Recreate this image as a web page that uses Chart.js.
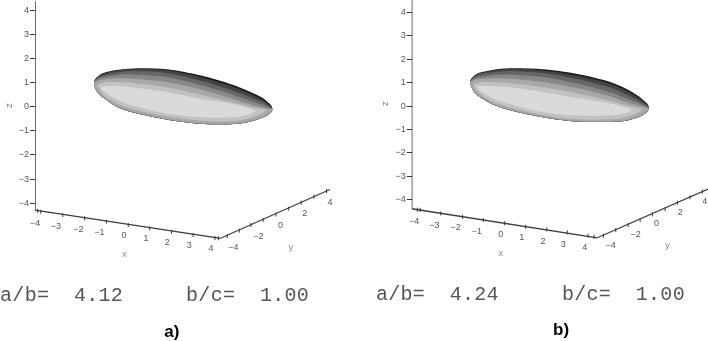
<!DOCTYPE html>
<html><head><meta charset="utf-8">
<style>html,body{margin:0;padding:0;background:#fff;overflow:hidden}
canvas{position:absolute;top:0;filter:blur(0.4px)}</style>
<script src="https://cdn.jsdelivr.net/npm/chart.js@4"></script></head>
<body><canvas id="pa" width="354" height="341" style="left:0"></canvas>
<canvas id="pb" width="354" height="341" style="left:354px"></canvas>
<script>
const zTicks=[-4,-3,-2,-1,0,1,2,3,4];
const xTickLabels=['-4','-3','-2','-1','0','1','2','3','4'];
const yTickLabels=['-4','-2','0','2','4'];

// panel a, values (h = horizontal projected units, z = z axis units)
const aH=[2.45,2.49,2.63,2.84,3.39,4.08,5.46,6.85,8.23,8.92,9.47,9.68,9.82,9.86];
const aTop0=[.97,1.13,1.27,1.40,1.52,1.59,1.55,1.30,.90,.62,.35,.17,.03,-.10];
const aTop1=[.97,1.12,1.26,1.37,1.49,1.56,1.51,1.23,.82,.54,.28,.11,0,-.10];
const aTop2=[.97,1.09,1.22,1.31,1.42,1.48,1.40,1.09,.66,.40,.17,.04,-.04,-.10];
const aTop3=[.97,1.06,1.16,1.23,1.31,1.34,1.23,.91,.50,.25,.07,-.03,-.07,-.10];
const aTop4=[.97,1.02,1.09,1.13,1.18,1.16,1.02,.72,.32,.10,-.04,-.08,-.10,-.10];
const aLow0=[.97,.79,.55,.37,0,-.24,-.53,-.71,-.72,-.62,-.44,-.33,-.21,-.10];
const aLow4=[.97,.81,.57,.39,.02,-.22,-.51,-.69,-.70,-.60,-.42,-.31,-.19,-.10];
const aH5=[2.56,2.84,3.39,4.08,5.46,6.85,8.23,8.92,9.47,9.61];
const aTop5=[.90,1.01,1.02,.98,.80,.51,.17,0,-.11,-.14];
const aLow5=[.90,.51,.14,-.11,-.41,-.58,-.60,-.48,-.25,-.14];
const aH6=[2.70,2.84,3.39,4.08,5.46,6.85,8.23,8.92,9.20];
const aTop6=[.80,.84,.86,.80,.61,.33,.11,-.08,-.18];
const aLow6=[.80,.66,.30,.04,-.28,-.44,-.44,-.32,-.18];
const aXAxisH=[0,7.70], aXAxisZ=[-4.29,-5.46];
const aYAxisH=[7.70,12.24], aYAxisZ=[-5.46,-3.43];
const aZAxis=[-4.29,4.38];
const aXTickH=[.11,.24,1.15,2.06,2.96,3.87,4.76,5.67,6.56,7.47,7.61];
const aXTickZ=[-4.32,-4.36,-4.50,-4.63,-4.77,-4.91,-5.05,-5.19,-5.32,-5.45,-5.46];
const aYTickH=[7.98,8.48,8.96,9.47,10.0,10.53,11.05,11.58,12.10];
const aYTickZ=[-5.37,-5.14,-4.91,-4.70,-4.47,-4.23,-3.98,-3.73,-3.50];
const aXLabelH=[0,.87,1.80,2.67,3.69,4.61,5.49,6.40,7.30];
const aXLabelZ=[-4.84,-4.98,-5.08,-5.23,-5.34,-5.48,-5.63,-5.75,-5.88];
const aYLabelH=[8.23,9.27,10.19,11.20,12.24];
const aYLabelZ=[-5.84,-5.37,-4.94,-4.45,-3.97];

// panel b
const bH=[2.49,2.54,2.68,2.89,3.46,4.17,5.60,7.02,8.45,9.16,9.73,9.94,10.09,10.14];
const bTop0=[1.00,1.15,1.30,1.42,1.54,1.61,1.57,1.38,1.04,.74,.40,.21,.06,-.10];
const bTop1=[1.00,1.14,1.28,1.40,1.51,1.58,1.52,1.30,.96,.66,.33,.16,.03,-.10];
const bTop2=[1.00,1.11,1.24,1.34,1.44,1.50,1.41,1.16,.80,.50,.21,.09,-.01,-.10];
const bTop3=[1.00,1.08,1.18,1.25,1.32,1.35,1.24,.97,.60,.33,.11,.01,-.06,-.10];
const bTop4=[1.00,1.04,1.11,1.15,1.18,1.17,1.03,.77,.42,.17,.01,-.04,-.09,-.10];
const bLow0=[1.00,.83,.58,.40,.07,-.17,-.48,-.66,-.68,-.63,-.46,-.34,-.21,-.10];
const bLow4=[1.00,.85,.60,.42,.09,-.15,-.46,-.64,-.66,-.61,-.44,-.32,-.19,-.10];
const bH5=[2.61,2.89,3.46,4.17,5.60,7.02,8.45,9.16,9.73,9.87];
const bTop5=[.93,1.01,1.02,.98,.80,.55,.23,.03,-.11,-.14];
const bLow5=[.93,.53,.19,-.06,-.38,-.57,-.57,-.48,-.26,-.14];
const bH6=[2.75,2.89,3.46,4.17,5.60,7.02,8.45,9.16,9.44];
const bTop6=[.83,.85,.85,.80,.60,.35,.11,-.06,-.17];
const bLow6=[.83,.68,.33,.09,-.26,-.41,-.41,-.30,-.17];
const bXAxisH=[0,7.93], bXAxisZ=[-4.39,-5.63];
const bYAxisH=[7.93,12.66], bYAxisZ=[-5.63,-3.55];
const bZAxis=[-4.39,4.53];
const bXTickH=[.24,.36,1.24,2.17,3.06,3.97,4.87,5.77,6.65,7.54,7.79];
const bXTickZ=[-4.43,-4.44,-4.59,-4.74,-4.87,-5.01,-5.16,-5.27,-5.40,-5.54,-5.58];
const bYTickH=[8.19,8.72,9.25,9.76,10.28,10.83,11.35,11.89,12.42];
const bYTickZ=[-5.54,-5.30,-5.09,-4.87,-4.63,-4.40,-4.13,-3.90,-3.66];
const bXLabelH=[.10,.97,1.88,2.78,3.80,4.70,5.61,6.48,7.39];
const bXLabelZ=[-4.94,-5.09,-5.21,-5.37,-5.47,-5.63,-5.77,-5.90,-6.04];
const bYLabelH=[8.50,9.57,10.46,11.47,12.52];
const bYLabelZ=[-5.98,-5.51,-5.04,-4.56,-4.09];

const shades=['#1c1c1c','#444444','#666666','#888888','#a8a8a8','#c2c2c2','#dadada'];
const axisColor='#3a3a3a', tickText='#555';
const fontMono='"Liberation Mono",monospace', fontSans='"Liberation Sans",Arial,sans-serif';

const pts=(hs,zs)=>hs.map((x,i)=>({x,y:zs[i]}));
function band(hs,up,lo,color){
  const base={showLine:true,pointRadius:0,tension:.3,borderWidth:0,borderColor:'transparent'};
  return [{...base,data:pts(hs,up),backgroundColor:color,fill:'+1'},{...base,data:pts(hs,lo),fill:false}];
}
const lineDs=(hs,zs,w)=>({showLine:true,pointRadius:0,tension:0,borderWidth:w,borderColor:axisColor,data:pts(hs,zs),fill:false});
const tickDs=(hs,zs)=>({showLine:false,pointStyle:'line',rotation:90,pointRadius:2,pointBorderWidth:1,pointBorderColor:axisColor,borderColor:axisColor,data:pts(hs,zs)});

const textPlugin={id:'panelText',afterDraw(c,_,o){
  const g=c.ctx;
  for(const it of o.items){
    g.save();
    g.translate(c.scales.x.getPixelForValue(it.h),c.scales.y.getPixelForValue(it.z));
    if(it.rot)g.rotate(it.rot);
    g.font=it.font;g.fillStyle=it.color;g.textAlign=it.align||'center';g.textBaseline=it.base||'middle';
    if(it.ls)g.letterSpacing=it.ls;
    g.fillText(it.t,0,0);g.restore();
  }
}};
const minus=s=>s.replace('-','\u2212');
function panel(id,p){
  const tickFont='9px '+fontSans;
  const items=[];
  xTickLabels.forEach((t,i)=>items.push({t:minus(t),h:p.xLH[i],z:p.xLZ[i],font:tickFont,color:tickText}));
  yTickLabels.forEach((t,i)=>items.push({t:minus(t),h:p.yLH[i],z:p.yLZ[i],font:tickFont,color:tickText}));
  items.push({t:'x',h:p.xName[0],z:p.xName[1],font:'9px '+fontMono,color:'#888'});
  items.push({t:'y',h:p.yName[0],z:p.yName[1],font:'9px '+fontMono,color:'#888'});
  items.push({t:'z',h:p.zName[0],z:p.zName[1],font:'9px '+fontMono,color:'#777',rot:-Math.PI/2});
  const cap='20px '+fontMono;
  items.push({t:p.ab,h:p.abPos[0],z:p.abPos[1],font:cap,color:'#555',align:'left',base:'alphabetic',ls:'0.3px'});
  items.push({t:p.bc,h:p.bcPos[0],z:p.abPos[1],font:cap,color:'#555',align:'left',base:'alphabetic',ls:'0.3px'});
  items.push({t:p.tag,h:p.tagPos[0],z:p.tagPos[1],font:'bold 17px '+fontSans,color:'#000',base:'alphabetic'});
  new Chart(document.getElementById(id),{
    type:'scatter',
    data:{datasets:[...p.bands,lineDs([0,0],p.zAxis,1.5),lineDs(p.xAH,p.xAZ,1.3),lineDs(p.yAH,p.yAZ,1.1),tickDs(p.xTH,p.xTZ),tickDs(p.yTH,p.yTZ)]},
    plugins:[textPlugin],
    options:{responsive:false,animation:false,layout:{padding:0,autoPadding:false},
      plugins:{legend:{display:false},tooltip:{enabled:false},panelText:{items}},
      scales:{
        x:{type:'linear',display:false,min:p.xr[0],max:p.xr[1]},
        y:{type:'linear',min:p.yr[0],max:p.yr[1],position:'left',
          afterFit(a){a.width=p.left;a.paddingTop=0;a.paddingBottom=0;},
          afterBuildTicks(a){a.ticks=zTicks.map(value=>({value}));},
          border:{display:false},
          grid:{drawOnChartArea:false,drawTicks:true,tickLength:5,color:axisColor,lineWidth:1},
          ticks:{autoSkip:false,padding:1,color:tickText,font:{family:'Liberation Sans',size:9},callback:v=>minus(String(v))}}
      }}
  });
}
panel('pa',{left:35,xr:[0,13.24],yr:[-9.72,4.427],
  bands:[...band(aH6,aTop6,aLow6,shades[6]),...band(aH5,aTop5,aLow5,shades[5]),...band(aH,aTop4,aLow4,shades[4]),
    ...band(aH,aTop3,aLow0,shades[3]),...band(aH,aTop2,aLow0,shades[2]),...band(aH,aTop1,aLow0,shades[1]),...band(aH,aTop0,aLow0,shades[0])],
  zAxis:aZAxis,xAH:aXAxisH,xAZ:aXAxisZ,yAH:aYAxisH,yAZ:aYAxisZ,xTH:aXTickH,xTZ:aXTickZ,yTH:aYTickH,yTZ:aYTickZ,
  xLH:aXLabelH,xLZ:aXLabelZ,yLH:aYLabelH,yLZ:aYLabelZ,xName:[3.71,-6.14],yName:[10.62,-5.84],zName:[-1.04,.05],
  ab:'a/b=  4.12',bc:'b/c=  1.00',abPos:[-1.45,-8.06],bcPos:[6.27],tag:'a)',tagPos:[5.68,-9.54]});
panel('pb',{left:57.7,xr:[0,12.66],yr:[-10.04,4.53],
  bands:[...band(bH6,bTop6,bLow6,shades[6]),...band(bH5,bTop5,bLow5,shades[5]),...band(bH,bTop4,bLow4,shades[4]),
    ...band(bH,bTop3,bLow0,shades[3]),...band(bH,bTop2,bLow0,shades[2]),...band(bH,bTop1,bLow0,shades[1]),...band(bH,bTop0,bLow0,shades[0])],
  zAxis:bZAxis,xAH:bXAxisH,xAZ:bXAxisZ,yAH:bYAxisH,yAZ:bYAxisZ,xTH:bXTickH,xTZ:bXTickZ,yTH:bYTickH,yTZ:bYTickZ,
  xLH:bXLabelH,xLZ:bXLabelZ,yLH:bYLabelH,yLZ:bYLabelZ,xName:[3.80,-6.32],yName:[10.93,-5.98],zName:[-1.10,.09],
  ab:'a/b=  4.24',bc:'b/c=  1.00',abPos:[-1.53,-8.29],bcPos:[6.42],tag:'b)',tagPos:[6.38,-9.79]});
</script></body></html>
